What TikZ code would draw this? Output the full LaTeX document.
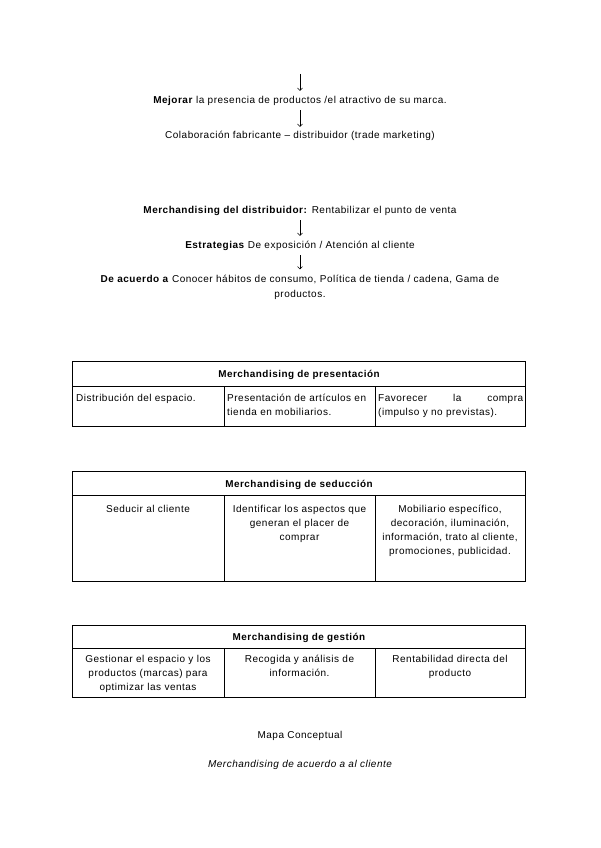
\documentclass[tikz,border=0pt]{standalone}
\usepackage{fontspec}
\setmainfont{Liberation Sans}[LetterSpace=5]
\usetikzlibrary{arrows.meta}

\tikzset{
  txt/.style={font=\fontsize{10}{14}\selectfont, text height=7pt, text depth=2pt, inner ysep=5pt, inner xsep=0pt, anchor=base},
  para/.style={font=\fontsize{10}{14}\selectfont, inner ysep=5pt, inner xsep=0pt, anchor=base},
  headtxt/.style={font=\bfseries\fontsize{9.9}{14}\selectfont, inner sep=0pt, anchor=base},
  cell/.style={font=\fontsize{10}{14}\selectfont, inner sep=0pt, text width=147pt},
  arr/.style={-{Straight Barb[length=2.5pt,width=5pt]}, line width=0.5pt},
  tab/.style={line width=0.8pt}
}

\begin{document}
\begin{tikzpicture}[x=1pt,y=-1pt]
\useasboundingbox (0,0) rectangle (600,848);
% cadena de arriba
\coordinate (top) at (300,74);
\node[txt] (mejorar) at (300,103) {\textbf{Mejorar} la presencia de productos /el atractivo de su marca.};
\node[txt] (colab) at (300,139) {Colaboración fabricante -- distribuidor (trade marketing)};
\draw[arr] (top) -- (mejorar);
\draw[arr] (mejorar) -- (colab);

\node[txt] (distrib) at (300,213) {\textbf{Merchandising del distribuidor:} Rentabilizar el punto de venta};
\node[txt] (estrat) at (300,248) {\textbf{Estrategias} De exposición / Atención al cliente};
\node[para, font=\fontsize{10}{15}\selectfont, text width=450pt, align=center] (acuerdo) at (300,282) {\textbf{De acuerdo a} Conocer hábitos de consumo, Política de tienda / cadena, Gama de\\productos.};
\draw[arr] (distrib) -- (estrat);
\draw[arr] (estrat) -- (acuerdo);

% tabla 1
\draw[tab] (72.5,361) rectangle (525.5,426);
\draw[tab] (72.5,386) -- (525.5,386);
\draw[tab] (224,386) -- (224,426);
\draw[tab] (375,386) -- (375,426);
\node[headtxt] (pres) at (299,377) {Merchandising de presentación};
\node[cell, anchor=base west, align=left] (pres1) at (76,401) {Distribución del espacio.};
\node[cell, anchor=base west, align=left] (pres2) at (227,401) {Presentación de artículos en\\tienda en mobiliarios.};
\node[cell, anchor=base west, text width=145pt, align=left] (pres3) at (378,401) {Favorecer\hfill la\hfill compra\\(impulso y no previstas).};

% tabla 2
\draw[tab] (72.5,471) rectangle (525.5,581);
\draw[tab] (72.5,495) -- (525.5,495);
\draw[tab] (224,495) -- (224,581);
\draw[tab] (375,495) -- (375,581);
\node[headtxt] (sed) at (299,487) {Merchandising de seducción};
\node[cell, anchor=base, align=center] (sed1) at (148,512) {Seducir al cliente};
\node[cell, anchor=base, align=center] (sed2) at (299.5,512) {Identificar los aspectos que\\generan el placer de\\comprar};
\node[cell, anchor=base, align=center] (sed3) at (450,512) {Mobiliario específico,\\decoración, iluminación,\\información, trato al cliente,\\promociones, publicidad.};

% tabla 3
\draw[tab] (72.5,625) rectangle (525.5,697);
\draw[tab] (72.5,648) -- (525.5,648);
\draw[tab] (224,648) -- (224,697);
\draw[tab] (375,648) -- (375,697);
\node[headtxt] (ges) at (299,640) {Merchandising de gestión};
\node[cell, anchor=base, align=center] (ges1) at (148,662) {Gestionar el espacio y los\\productos (marcas) para\\optimizar las ventas};
\node[cell, anchor=base, align=center] (ges2) at (299.5,662) {Recogida y análisis de\\información.};
\node[cell, anchor=base, align=center] (ges3) at (450,662) {Rentabilidad directa del\\producto};

% pie
\node[para] (mapa) at (300,738) {Mapa Conceptual};
\node[para, font=\itshape\fontsize{10}{14}\selectfont] (pie) at (300,767) {Merchandising de acuerdo a al cliente};
\end{tikzpicture}
\end{document}
